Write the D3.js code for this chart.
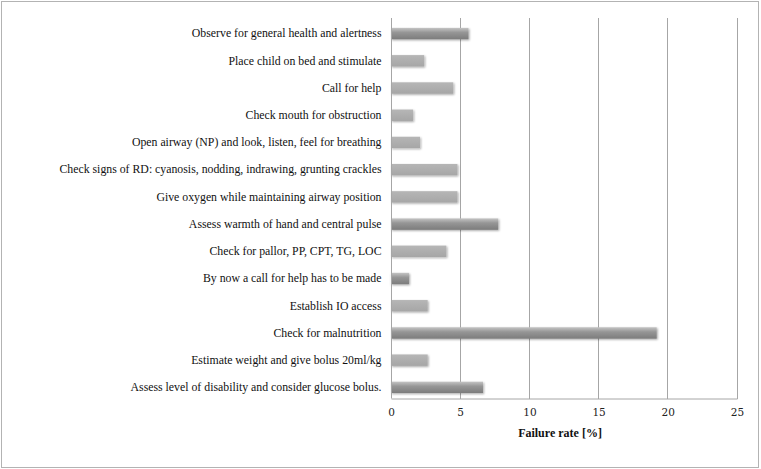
<!DOCTYPE html>
<html>
<head>
<meta charset="utf-8">
<script src="https://cdn.jsdelivr.net/npm/d3@7"></script>
<style>
  html, body { margin: 0; padding: 0; background: #fff; }
  svg { display: block; }
  .serif { font-family: "Liberation Serif", "Times New Roman", Times, "DejaVu Serif", serif; }
  .tick-serif { font-family: "DejaVu Serif", "Liberation Serif", serif; }
</style>
</head>
<body>
<svg id="chart" width="761" height="469"></svg>
<script>
const categories = [
  "Observe for general health and alertness",
  "Place child on bed and stimulate",
  "Call for help",
  "Check mouth for obstruction",
  "Open airway (NP) and look, listen, feel for breathing",
  "Check signs of RD: cyanosis, nodding, indrawing, grunting crackles",
  "Give oxygen while maintaining airway position",
  "Assess warmth of hand and central pulse",
  "Check for pallor, PP, CPT, TG, LOC",
  "By now a call for help has to be made",
  "Establish IO access",
  "Check for malnutrition",
  "Estimate weight and give bolus 20ml/kg",
  "Assess level of disability and consider glucose bolus."
];
const failureRate = [5.6, 2.4, 4.5, 1.6, 2.1, 4.8, 4.8, 7.75, 4.0, 1.3, 2.65, 19.2, 2.65, 6.65];
const xTicks = [0, 5, 10, 15, 20, 25];
const xTitle = "Failure rate [%]";
const darkBars = ["Observe for general health and alertness", "Assess warmth of hand and central pulse",
  "By now a call for help has to be made", "Check for malnutrition",
  "Assess level of disability and consider glucose bolus."];

const data = categories.map((c, i) => ({ cat: c, v: failureRate[i] }));
const svg = d3.select("#chart");

svg.append("rect").attr("x", 1.5).attr("y", 1.5).attr("width", 757).attr("height", 466)
  .attr("fill", "#fff").attr("stroke", "#b3b3b3").attr("stroke-width", 1);

const x = d3.scaleLinear().domain([0, 25]).range([391, 737]);
const y = d3.scaleBand().domain(categories).range([19.5, 400.5]).paddingInner(0.58).paddingOuter(0.29);

const defs = svg.append("defs");
const gDark = defs.append("linearGradient").attr("id", "gDark").attr("x1", 0).attr("y1", 0).attr("x2", 0).attr("y2", 1);
gDark.append("stop").attr("offset", "0%").attr("stop-color", "#c4c4c4");
gDark.append("stop").attr("offset", "40%").attr("stop-color", "#969696");
gDark.append("stop").attr("offset", "100%").attr("stop-color", "#7c7c7c");
const gLight = defs.append("linearGradient").attr("id", "gLight").attr("x1", 0).attr("y1", 0).attr("x2", 0).attr("y2", 1);
gLight.append("stop").attr("offset", "0%").attr("stop-color", "#b6b6b6");
gLight.append("stop").attr("offset", "100%").attr("stop-color", "#a6a6a6");
const f = defs.append("filter").attr("id", "shadow").attr("x", "-10%").attr("y", "-50%").attr("width", "130%").attr("height", "200%");
f.append("feGaussianBlur").attr("in", "SourceAlpha").attr("stdDeviation", 1.2).attr("result", "b");
f.append("feOffset").attr("in", "b").attr("dx", 0.5).attr("dy", 1).attr("result", "o");
f.append("feComponentTransfer").attr("in", "o").attr("result", "o2")
  .append("feFuncA").attr("type", "linear").attr("slope", 0.35);
const m = f.append("feMerge");
m.append("feMergeNode").attr("in", "o2");
m.append("feMergeNode").attr("in", "SourceGraphic");

const grid = svg.append("g");
grid.selectAll("line").data(xTicks.filter(t => t > 0)).join("line")
  .attr("x1", d => x(d)).attr("x2", d => x(d)).attr("y1", 18).attr("y2", 398.5)
  .attr("stroke", "#a6a6a6").attr("stroke-width", 1).attr("shape-rendering", "crispEdges");

svg.append("g").selectAll("rect").data(data).join("rect")
  .attr("x", x(0)).attr("y", d => y(d.cat) + 0.5)
  .attr("width", d => x(d.v) - x(0)).attr("height", y.bandwidth())
  .attr("fill", d => darkBars.includes(d.cat) ? "url(#gDark)" : "url(#gLight)")
  .attr("filter", "url(#shadow)");

const xAxis = svg.append("g").attr("transform", "translate(0,398.5)")
  .call(d3.axisBottom(x).tickValues(xTicks).tickSize(0).tickPadding(10).tickFormat(d3.format("d")));
xAxis.attr("font-family", null);
xAxis.select(".domain").attr("stroke", "#a6a6a6");
xAxis.selectAll("text").attr("class", "tick-serif").style("font-size", "10.5px").attr("fill", "#222");

const yAxis = svg.append("g").attr("transform", "translate(391.5,0)")
  .call(d3.axisLeft(y).tickSize(0).tickPadding(10));
yAxis.attr("font-family", null);
yAxis.select(".domain").attr("d", "M0,18V398.5").attr("stroke", "#a6a6a6");
yAxis.selectAll("text").attr("class", "serif").style("font-size", "11.8px").attr("fill", "#111").attr("dy", "0.36em");

svg.append("text").attr("class", "serif").attr("x", (x(0) + x(25)) / 2 - 4).attr("y", 437)
  .attr("text-anchor", "middle").style("font-weight", "bold").style("font-size", "12px")
  .attr("fill", "#111").text(xTitle);
</script>
</body>
</html>
